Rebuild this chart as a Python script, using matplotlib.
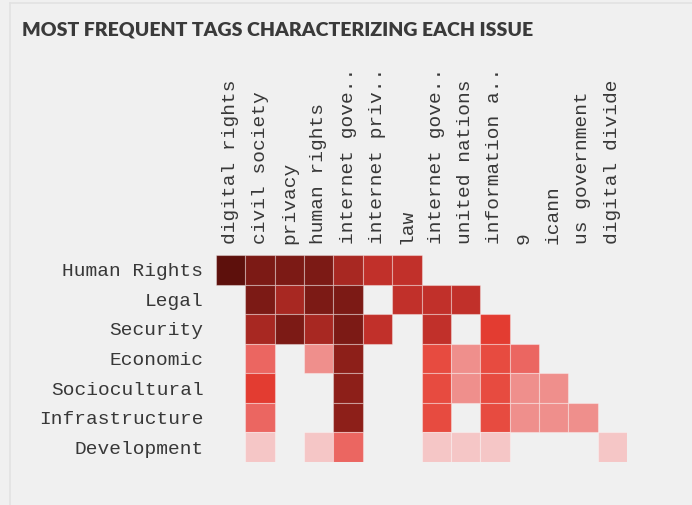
import numpy as np
import matplotlib
matplotlib.use('Agg')
import matplotlib.pyplot as plt
from matplotlib.lines import Line2D
from matplotlib.patches import Rectangle

# issues (rows) and tags (columns)
issues = ['Human Rights', 'Legal', 'Security', 'Economic', 'Sociocultural',
          'Infrastructure', 'Development']
tags = ['digital rights', 'civil society', 'privacy', 'human rights',
        'internet gove..', 'internet priv..', 'law', 'internet gove..',
        'united nations', 'information a..', '9', 'icann', 'us government',
        'digital divide']

# intensity level per cell (0 = lightest, 9 = darkest), nan = no tag
N = np.nan
hr_row    = [9, 8, 8, 8, 6, 5, 5, N, N, N, N, N, N, N]
legal_row = [N, 8, 6, 8, 8, N, 5, 5, 5, N, N, N, N, N]
sec_row   = [N, 6, 8, 6, 8, 5, N, 5, N, 4, N, N, N, N]
eco_row   = [N, 2, N, 1, 7, N, N, 3, 1, 3, 2, N, N, N]
soc_row   = [N, 4, N, N, 7, N, N, 3, 1, 3, 1, 1, N, N]
inf_row   = [N, 2, N, N, 7, N, N, 3, N, 3, 1, 1, 1, N]
dev_row   = [N, 0, N, 0, 2, N, N, 0, 0, 0, N, N, N, 0]

level_colors = ['#f5c6c6', '#ef8f8c', '#eb6661', '#e74b40', '#e33c31',
                '#c1302a', '#a82822', '#8d1f19', '#7c1a15', '#5d100c']

grid = np.array([hr_row, legal_row, sec_row, eco_row, soc_row, inf_row, dev_row])

W, H = 692, 505
fig = plt.figure(figsize=(W / 100, H / 100), dpi=100)
fig.patch.set_facecolor('#f0f0f0')

# panel edges
fig.add_artist(Line2D([10 / W, 10 / W], [0, 1 - 3 / H], color='#e2e2e2', lw=1.2))
fig.add_artist(Line2D([10 / W, 1], [1 - 3 / H, 1 - 3 / H], color='#e2e2e2', lw=1.2))

fig.text(22 / W, 1 - 36 / H, 'MOST FREQUENT TAGS CHARACTERIZING EACH ISSUE',
         fontfamily='Lato', fontweight='heavy', fontsize=14, color='#3a3a3a',
         va='baseline', ha='left')

left, top, right, bottom = 216, 255, 627, 462
ax = fig.add_axes([left / W, 1 - bottom / H, (right - left) / W, (bottom - top) / H])
ax.set_facecolor('#f0f0f0')

# only cells that carry a tag get a square
for r in range(grid.shape[0]):
    for c in range(grid.shape[1]):
        v = grid[r, c]
        if np.isnan(v):
            continue
        ax.add_patch(Rectangle((c, r), 1, 1, facecolor=level_colors[int(v)],
                               edgecolor=(1, 1, 1, 0.35), linewidth=0.8))
ax.set_xlim(0, len(tags))
ax.set_ylim(len(issues), 0)

mono = 'Liberation Mono'
ax.set_xticks(np.arange(len(tags)) + 0.5)
ax.set_xticklabels(tags, rotation=90, fontfamily=mono, fontsize=14,
                   color='#383838')
ax.xaxis.tick_top()
ax.set_yticks(np.arange(len(issues)) + 0.5)
ax.set_yticklabels(issues, fontfamily=mono, fontsize=14, color='#383838')
ax.tick_params(length=0)
ax.tick_params(axis='x', pad=8)
ax.tick_params(axis='y', pad=9)
for s in ax.spines.values():
    s.set_visible(False)

plt.savefig('out.png', dpi=100, facecolor=fig.get_facecolor())
